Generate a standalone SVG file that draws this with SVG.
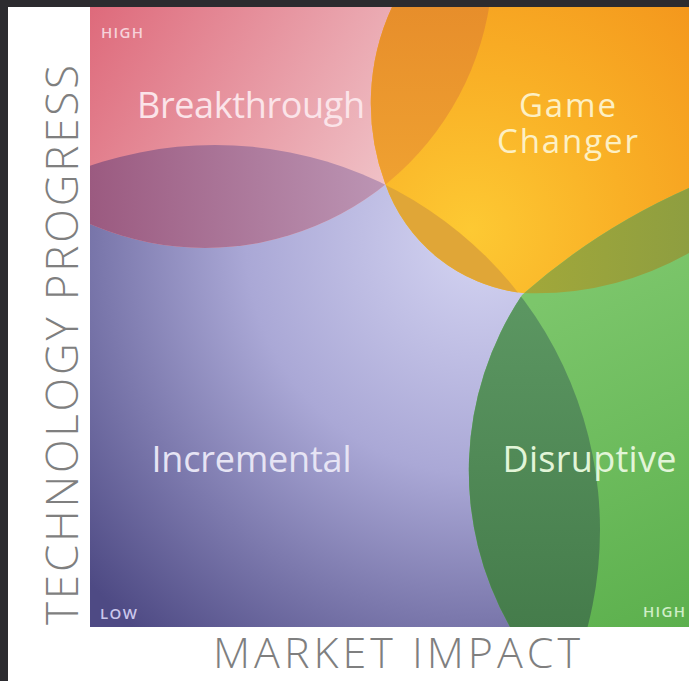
<svg xmlns="http://www.w3.org/2000/svg" width="689" height="681" viewBox="0 0 689 681">
<style>
.lbl{font-family:"Open Sans","Liberation Sans",sans-serif;font-size:36px;}
.lbl2{font-family:"Open Sans","Liberation Sans",sans-serif;font-size:33px;}
.small{font-family:"Open Sans","Liberation Sans",sans-serif;font-size:15px;font-weight:600;}
.axis{font-family:"Open Sans","Liberation Sans",sans-serif;font-weight:300;fill:#7f7f7f;}
</style>
<defs>
  <radialGradient id="gPurple" gradientUnits="userSpaceOnUse" cx="480" cy="240" r="520">
    <stop offset="0" stop-color="#d4d4f2"/>
    <stop offset="0.45" stop-color="#aaa8d6"/>
    <stop offset="1" stop-color="#4e4a84"/>
  </radialGradient>
  <linearGradient id="gPink" gradientUnits="userSpaceOnUse" x1="90" y1="7" x2="390" y2="190">
    <stop offset="0" stop-color="#de6a7b"/>
    <stop offset="1" stop-color="#f0c3c8"/>
  </linearGradient>
  <linearGradient id="gMauve" gradientUnits="userSpaceOnUse" x1="90" y1="200" x2="385" y2="190">
    <stop offset="0" stop-color="#9b5a80"/>
    <stop offset="1" stop-color="#bc95b4"/>
  </linearGradient>
  <radialGradient id="gOrange" gradientUnits="userSpaceOnUse" cx="470" cy="230" r="310">
    <stop offset="0" stop-color="#fdc933"/>
    <stop offset="0.5" stop-color="#f9b026"/>
    <stop offset="1" stop-color="#f4981d"/>
  </radialGradient>
  <linearGradient id="gDarkOrange" gradientUnits="userSpaceOnUse" x1="0" y1="7" x2="0" y2="183">
    <stop offset="0" stop-color="#e78e2b"/>
    <stop offset="1" stop-color="#efa131"/>
  </linearGradient>
  <linearGradient id="gOlive" gradientUnits="userSpaceOnUse" x1="522" y1="0" x2="689" y2="0">
    <stop offset="0" stop-color="#a2a83a"/>
    <stop offset="1" stop-color="#8e9e40"/>
  </linearGradient>
  <linearGradient id="gGreen" gradientUnits="userSpaceOnUse" x1="540" y1="300" x2="689" y2="627">
    <stop offset="0" stop-color="#7cc66b"/>
    <stop offset="1" stop-color="#5cb04d"/>
  </linearGradient>
  <linearGradient id="gDarkGreen" gradientUnits="userSpaceOnUse" x1="0" y1="295" x2="0" y2="627">
    <stop offset="0" stop-color="#5c9762"/>
    <stop offset="1" stop-color="#457c4b"/>
  </linearGradient>
  <clipPath id="cChart"><rect x="90" y="7" width="599" height="620"/></clipPath>
  <clipPath id="cPink"><circle cx="205" cy="-40" r="288"/></clipPath>
  <clipPath id="cPurple"><circle cx="215" cy="530" r="385"/></clipPath>
  <clipPath id="cOrange"><path d="M392,7 A230,230 0 0 0 385,183 A165,165 0 0 0 522,293 A313,313 0 0 0 689,253 L700,249 L700,-5 L395,-5 Z"/></clipPath>
</defs>

<rect width="689" height="681" fill="#2c2b2f"/>
<rect x="8" y="7" width="681" height="674" fill="#ffffff"/>

<g id="chart" clip-path="url(#cChart)">
  <rect id="incremental-area" x="90" y="7" width="599" height="620" fill="url(#gPurple)"/>
  <circle id="breakthrough-area" cx="205" cy="-40" r="288" fill="url(#gPink)"/>
  <circle id="lens-pink-purple" cx="205" cy="-40" r="288" fill="url(#gMauve)" clip-path="url(#cPurple)"/>
  <path id="gamechanger-area" d="M392,7 A230,230 0 0 0 385,183 A165,165 0 0 0 522,293 A313,313 0 0 0 689,253 L700,249 L700,-5 L395,-5 Z" fill="url(#gOrange)"/>
  <path id="lens-orange-purple" d="M392,7 A230,230 0 0 0 385,183 A165,165 0 0 0 522,293 A313,313 0 0 0 689,253 L700,249 L700,-5 L395,-5 Z" fill="#e0a637" clip-path="url(#cPurple)"/>
  <path id="lens-orange-pink" d="M392,7 A230,230 0 0 0 385,183 A165,165 0 0 0 522,293 A313,313 0 0 0 689,253 L700,249 L700,-5 L395,-5 Z" fill="url(#gDarkOrange)" clip-path="url(#cPink)"/>
  <path id="disruptive-area" d="M522,295 A317,317 0 0 0 510,627 L700,627 L700,185 L689,188 A650,650 0 0 0 522,295 Z" fill="url(#gGreen)"/>
  <path id="lens-green-orange" d="M522,295 A317,317 0 0 0 510,627 L700,627 L700,185 L689,188 A650,650 0 0 0 522,295 Z" fill="url(#gOlive)" clip-path="url(#cOrange)"/>
  <path id="lens-green-purple" d="M522,295 A317,317 0 0 0 510,627 L700,627 L700,185 L689,188 A650,650 0 0 0 522,295 Z" fill="url(#gDarkGreen)" clip-path="url(#cPurple)"/>
</g>

<g id="breakthrough">
  <text class="lbl" x="137" y="118" textLength="228" fill="#fbe4e9">Breakthrough</text>
</g>
<g id="game-changer">
  <text class="lbl2" x="567.5" y="117" text-anchor="middle" textLength="97" fill="#fdf0c4">Game</text>
  <text class="lbl2" x="567.5" y="153" text-anchor="middle" textLength="141" fill="#fdf0c4">Changer</text>
</g>
<g id="incremental">
  <text class="lbl" x="151.5" y="472" textLength="200" fill="#e6e4f4">Incremental</text>
</g>
<g id="disruptive">
  <text class="lbl" x="502.5" y="472" textLength="174" fill="#e2f5d8">Disruptive</text>
</g>

<g id="scale-labels">
  <text class="small" x="101" y="38" textLength="42" fill="#f6d2da">HIGH</text>
  <text class="small" x="100" y="619" textLength="37" fill="#cac7ec">LOW</text>
  <text class="small" x="643" y="617" textLength="42" fill="#d0eec8">HIGH</text>
</g>

<g id="axes">
  <text class="axis" font-size="44" transform="translate(78,625) rotate(-90)" x="0" y="0" textLength="560">TECHNOLOGY PROGRESS</text>
  <text class="axis" font-size="43" x="213" y="668" textLength="367">MARKET IMPACT</text>
</g>
</svg>
